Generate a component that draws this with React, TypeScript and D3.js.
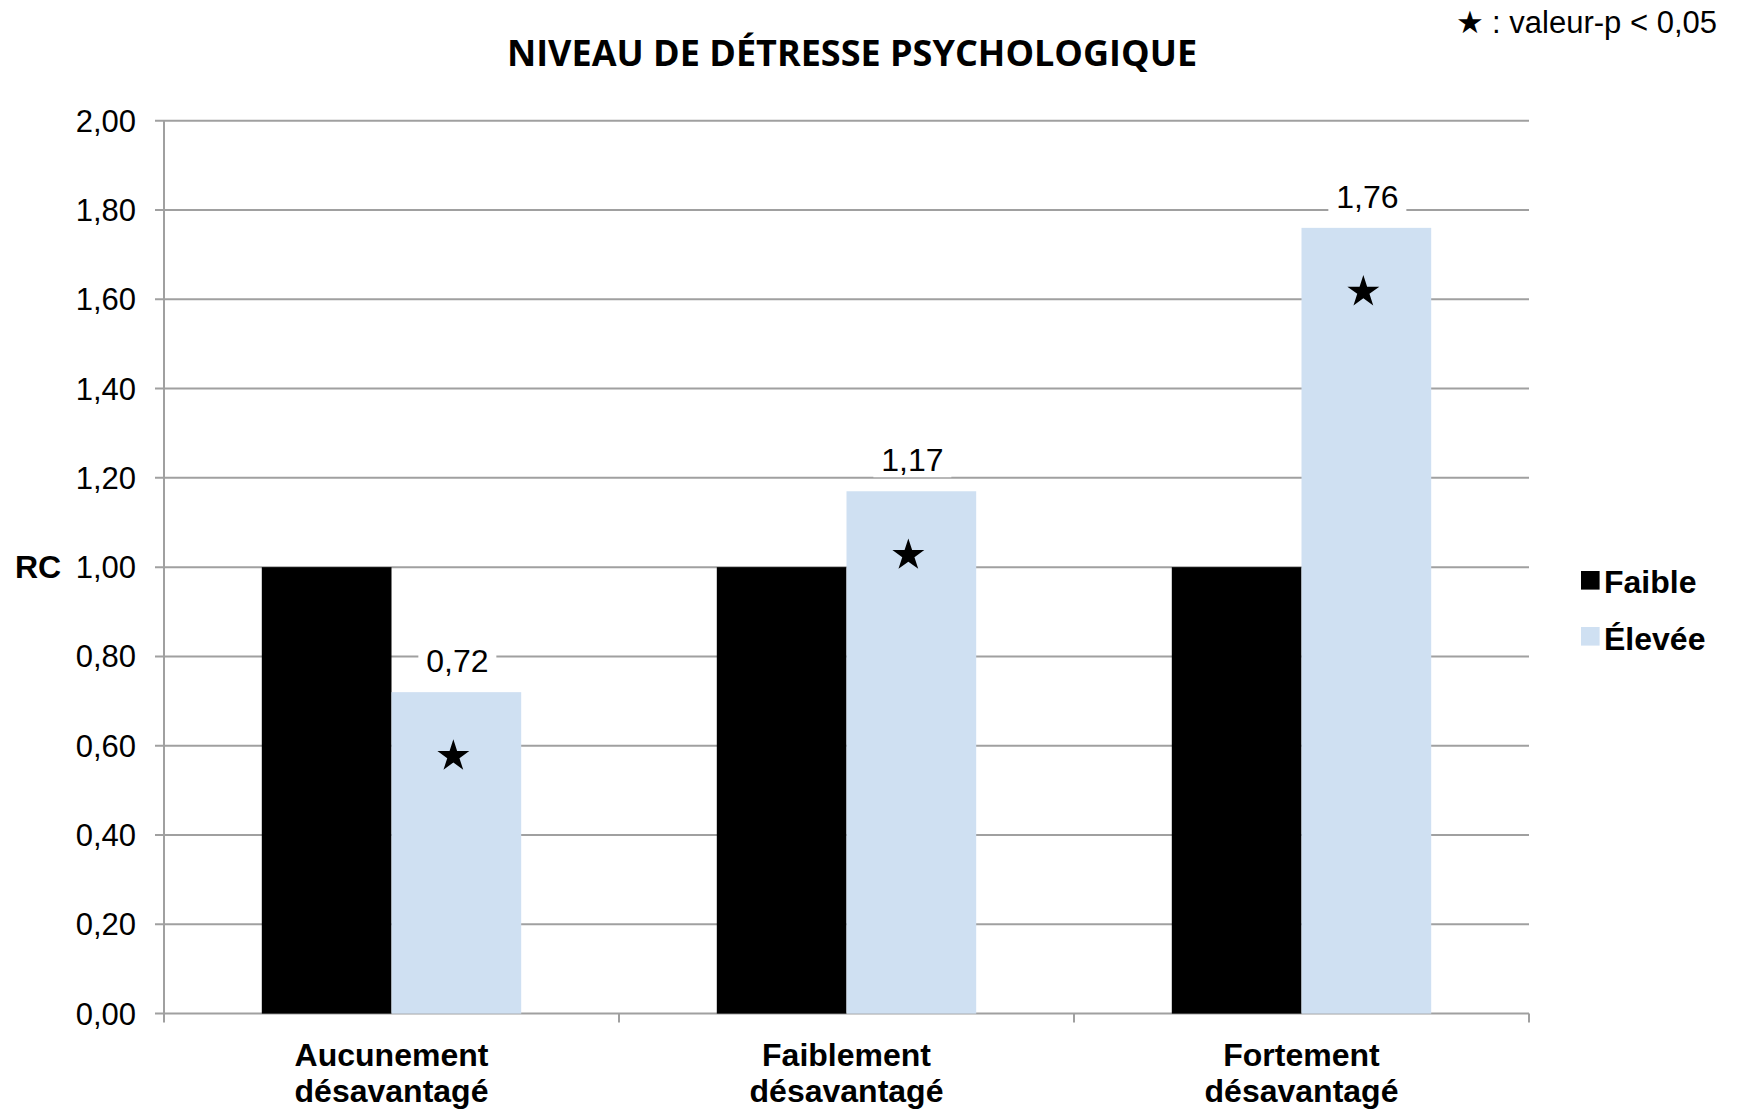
import React from "react";
import * as d3 from "d3";

const categories = [["Aucunement", "désavantagé"], ["Faiblement", "désavantagé"], ["Fortement", "désavantagé"]];
const seriesNames = ["Faible", "Élevée"];
const faibleValues = [1.0, 1.0, 1.0];
const eleveeValues = [0.72, 1.17, 1.76];
const eleveeLabels = ["0,72", "1,17", "1,76"];
const significant = [true, true, true];
const yTicks = [0, 0.2, 0.4, 0.6, 0.8, 1.0, 1.2, 1.4, 1.6, 1.8, 2.0];
const colors = ["#000000", "#cfe0f2"];

const W = 1737, H = 1110;
const left = 164, right = 1529, top = 120.7, bottom = 1013.6;

function starPath(cx: number, cy: number, r: number) {
  const ri = r * 0.382;
  const pts: [number, number][] = [];
  for (let i = 0; i < 10; i++) {
    const rr = i % 2 === 0 ? r : ri;
    const a = -Math.PI / 2 + (i * Math.PI) / 5;
    pts.push([cx + rr * Math.cos(a), cy + rr * Math.sin(a)]);
  }
  return d3.line()(pts) + "Z";
}

export default function App() {
  const y = d3.scaleLinear().domain([0, 2]).range([bottom, top]);
  const keys = categories.map((c) => c.join(" "));
  const x = d3.scaleBand().domain(keys).range([left, right]).paddingInner(0).paddingOuter(0);
  const bw = 129.7;
  const fmt = (v: number) => v.toFixed(2).replace(".", ",");
  const font = "'Liberation Sans', Arial, sans-serif";

  return (
    <svg width={W} height={H} style={{ position: "absolute", left: 0, top: 0, background: "#fff" }}>
      <rect width={W} height={H} fill="#fff" />
      {/* gridlines */}
      {yTicks.map((t) => (
        <line key={t} x1={155} x2={right} y1={y(t)} y2={y(t)} stroke="#a0a0a0" strokeWidth={2} />
      ))}
      {/* y axis */}
      <line x1={left} x2={left} y1={top} y2={bottom + 9} stroke="#a0a0a0" strokeWidth={2} />
      {/* category ticks */}
      {keys.map((k) => (
        <line key={k} x1={x(k)! + x.bandwidth()} x2={x(k)! + x.bandwidth()} y1={bottom} y2={bottom + 9} stroke="#a0a0a0" strokeWidth={2} />
      ))}
      {/* y tick labels */}
      {yTicks.map((t) => (
        <text key={t} x={136} y={y(t) + 11} textAnchor="end" fontFamily={font} fontSize={31} fill="#000">
          {fmt(t)}
        </text>
      ))}
      <text x={15} y={y(1) + 11} fontFamily={font} fontWeight="bold" fontSize={32} fill="#000">RC</text>
      {/* bars */}
      {keys.map((k, i) => {
        const c = x(k)! + x.bandwidth() / 2;
        const vF = faibleValues[i];
        const vE = eleveeValues[i];
        const xe = c;
        return (
          <g key={k}>
            <rect x={c - bw} y={y(vF)} width={bw} height={y(0) - y(vF)} fill={colors[0]} />
            <rect x={xe} y={y(vE)} width={bw} height={y(0) - y(vE)} fill={colors[1]} />
            <rect x={xe + bw / 2 - 38} y={y(vE) - 48} width={78} height={34} fill="#fff" />
            <text x={xe + bw / 2 + 1} y={y(vE) - 20} textAnchor="middle" fontFamily={font} fontSize={32} fill="#000">
              {eleveeLabels[i]}
            </text>
            {significant[i] && <path d={starPath(xe + bw / 2 - 3, y(vE) + 64, 16.8)} fill="#000" />}
          </g>
        );
      })}
      {/* category labels */}
      {keys.map((k, i) => {
        const c = x(k)! + x.bandwidth() / 2;
        return (
          <text key={k} textAnchor="middle" fontFamily={font} fontWeight="bold" fontSize={32} fill="#000">
            <tspan x={c} y={1066}>{categories[i][0]}</tspan>
            <tspan x={c} y={1102}>{categories[i][1]}</tspan>
          </text>
        );
      })}
      {/* legend */}
      {seriesNames.map((s, i) => (
        <g key={s}>
          <rect x={1581} y={571 + i * 56} width={18.6} height={18.6} fill={colors[i]} />
          <text x={1604} y={593 + i * 57} fontFamily={font} fontWeight="bold" fontSize={32} fill="#000">{s}</text>
        </g>
      ))}
      {/* title */}
      <text x={852} y={66} textAnchor="middle" fontFamily="'Open Sans', sans-serif" fontWeight="bold" fontSize={36} fill="#000">
        NIVEAU DE DÉTRESSE PSYCHOLOGIQUE
      </text>
      {/* note */}
      <text x={1717} y={33} textAnchor="end" fontFamily={font} fontSize={31} fill="#000">★ : valeur-p &lt; 0,05</text>
    </svg>
  );
}
